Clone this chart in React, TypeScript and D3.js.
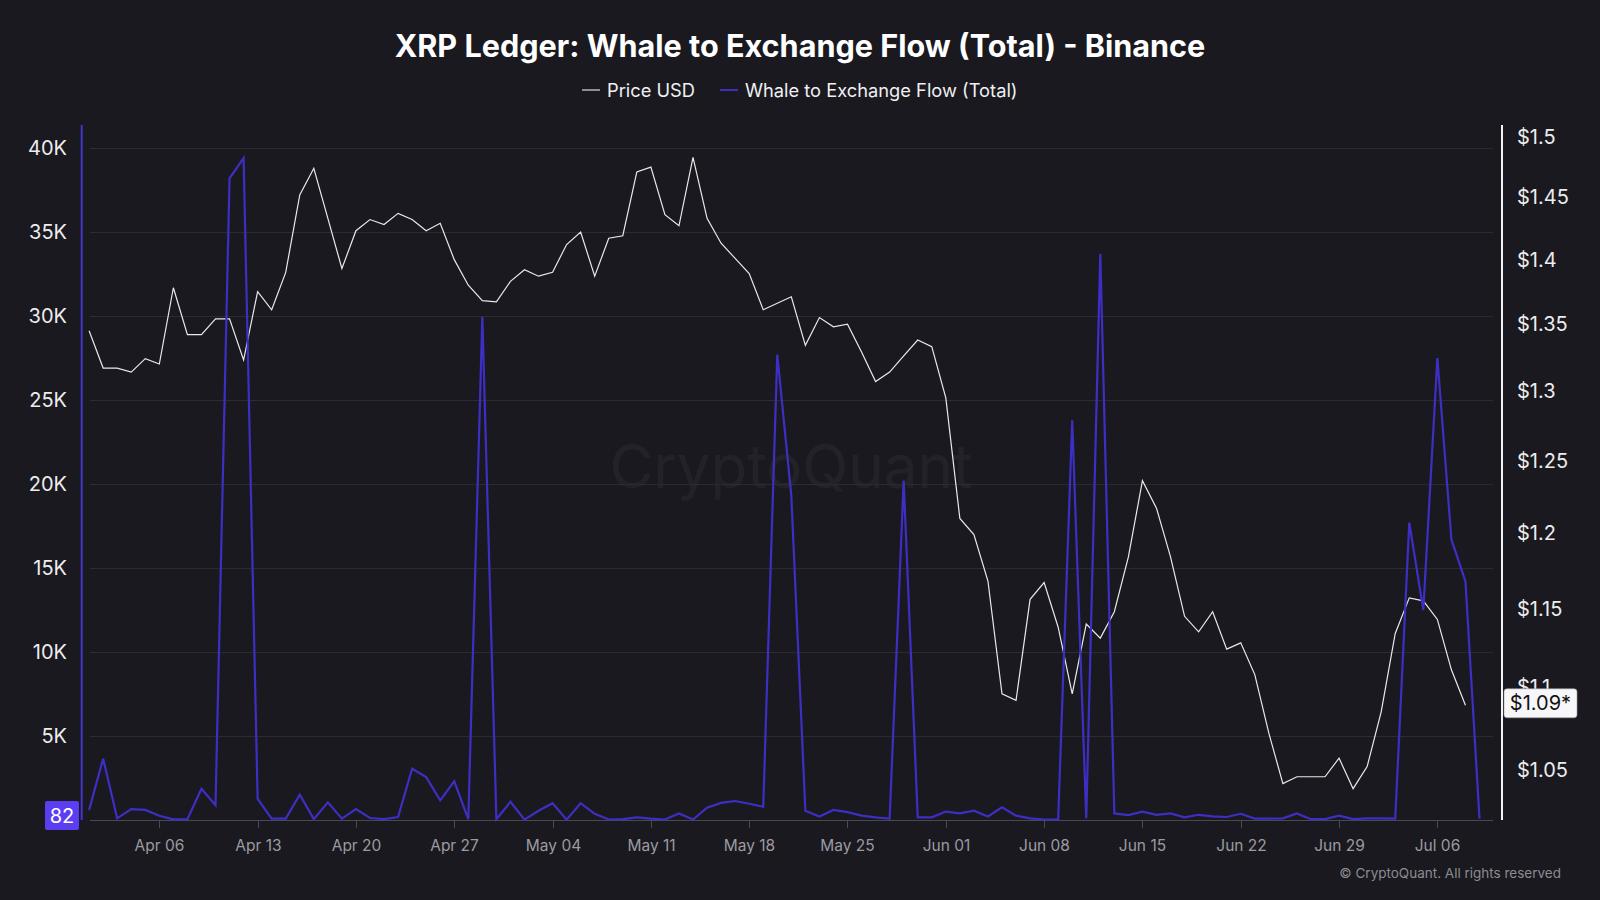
import React, { useEffect, useRef } from 'react'
import * as d3 from 'd3'

// daily points starting Apr 01
const startDate = Date.UTC(2025, 3, 1)

const priceUsd = [
  1.345, 1.317, 1.317, 1.314, 1.324, 1.32, 1.378, 1.342, 1.342, 1.354,
  1.354, 1.323, 1.375, 1.361, 1.39, 1.452, 1.474, 1.433, 1.393, 1.423,
  1.432, 1.428, 1.437, 1.432, 1.423, 1.429, 1.4, 1.38, 1.368, 1.367,
  1.383, 1.392, 1.387, 1.39, 1.412, 1.422, 1.387, 1.417, 1.419, 1.471,
  1.475, 1.436, 1.427, 1.483, 1.433, 1.413, 1.401, 1.389, 1.361, 1.366,
  1.371, 1.334, 1.355, 1.348, 1.35, 1.329, 1.307, 1.314, 1.326, 1.338,
  1.333, 1.295, 1.21, 1.199, 1.168, 1.096, 1.092, 1.156, 1.167, 1.138,
  1.096, 1.14, 1.131, 1.148, 1.184, 1.236, 1.217, 1.184, 1.145, 1.135,
  1.148, 1.124, 1.128, 1.108, 1.072, 1.042, 1.046, 1.046, 1.046, 1.057,
  1.039, 1.052, 1.085, 1.134, 1.157, 1.155, 1.143, 1.111, 1.089,
]

const whaleFlow = [
  600, 3650, 100, 650, 600, 250, 40, 50, 1860, 880,
  38200, 39400, 1250, 80, 80, 1500, 50, 1050, 80, 650,
  120, 50, 180, 3050, 2550, 1170, 2300, 50, 29950, 50,
  1080, 20, 550, 1000, 20, 1000, 370, 30, 50, 160,
  80, 30, 390, 30, 730, 1020, 1130, 970, 790, 27700,
  19300, 550, 210, 600, 470, 260, 160, 80, 20200, 160,
  160, 500, 390, 550, 210, 760, 260, 100, 30, 30,
  23800, 100, 33700, 390, 290, 500, 310, 390, 160, 310,
  220, 180, 370, 80, 80, 100, 390, 50, 50, 260,
  50, 100, 100, 80, 17700, 12500, 27500, 16700, 14200, 82,
]

const flowTicks = [5000, 10000, 15000, 20000, 25000, 30000, 35000, 40000]
const priceTicks = [1.05, 1.1, 1.15, 1.2, 1.25, 1.3, 1.35, 1.4, 1.45, 1.5]
const dateTicks = [
  '2025-04-06', '2025-04-13', '2025-04-20', '2025-04-27', '2025-05-04',
  '2025-05-11', '2025-05-18', '2025-05-25', '2025-06-01', '2025-06-08',
  '2025-06-15', '2025-06-22', '2025-06-29', '2025-07-06',
]

const FONT = 'Inter, "Noto Sans", sans-serif'
const BG = '#1a191f'
const PURPLE = '#3d2fc4'

const App: React.FC = () => {
  const svgRef = useRef<SVGSVGElement | null>(null)

  useEffect(() => {
    if (!svgRef.current) return
    const svg = d3.select(svgRef.current)
    svg.selectAll('*').remove()

    const width = 1600
    const height = 900
    const plot = { left: 90, right: 1493, top: 125, bottom: 820 }
    const day = 86400000

    svg.append('rect').attr('width', width).attr('height', height).attr('fill', BG)

    const x = d3
      .scaleUtc()
      .domain([new Date(startDate), new Date(startDate + 99 * day)])
      .range([89.1, 1479.5])
    const yFlow = d3.scaleLinear().domain([0, 41370]).range([plot.bottom, plot.top])
    const yPrice = d3
      .scaleLog()
      .domain([1.0208, 1.5104])
      .range([plot.bottom, plot.top])

    // title + legend
    svg
      .append('text')
      .attr('x', 800)
      .attr('y', 57)
      .attr('text-anchor', 'middle')
      .attr('font-family', FONT)
      .attr('font-size', 30.6)
      .attr('font-weight', 700)
      .attr('fill', '#ffffff')
      .text('XRP Ledger: Whale to Exchange Flow (Total) - Binance')

    const legend = [
      { label: 'Price USD', color: '#8d8d93', x: 582 },
      { label: 'Whale to Exchange Flow (Total)', color: PURPLE, x: 720 },
    ]
    legend.forEach((l) => {
      svg
        .append('line')
        .attr('x1', l.x)
        .attr('x2', l.x + 18)
        .attr('y1', 90)
        .attr('y2', 90)
        .attr('stroke', l.color)
        .attr('stroke-width', 2)
      svg
        .append('text')
        .attr('x', l.x + 25)
        .attr('y', 96.5)
        .attr('font-family', FONT)
        .attr('font-size', 18.3)
        .attr('fill', '#f0f0f2')
        .text(l.label)
    })

    // watermark
    svg
      .append('text')
      .attr('x', 791)
      .attr('y', 488)
      .attr('text-anchor', 'middle')
      .attr('font-family', FONT)
      .attr('font-size', 60)
      .attr('fill', '#ffffff')
      .attr('opacity', 0.04)
      .text('CryptoQuant')

    // grid
    svg
      .append('g')
      .selectAll('line')
      .data(flowTicks)
      .enter()
      .append('line')
      .attr('x1', plot.left)
      .attr('x2', plot.right)
      .attr('y1', (d) => Math.round(yFlow(d)) + 0.5)
      .attr('y2', (d) => Math.round(yFlow(d)) + 0.5)
      .attr('stroke', '#2c2b32')

    // bottom axis
    svg
      .append('line')
      .attr('x1', plot.left)
      .attr('x2', plot.right)
      .attr('y1', plot.bottom + 0.5)
      .attr('y2', plot.bottom + 0.5)
      .attr('stroke', '#4a4952')
    const xg = svg.append('g')
    dateTicks.forEach((t) => {
      const d = new Date(t + 'T00:00:00Z')
      const px = Math.round(x(d)) + 0.5
      xg.append('line')
        .attr('x1', px)
        .attr('x2', px)
        .attr('y1', plot.bottom)
        .attr('y2', plot.bottom + 8)
        .attr('stroke', '#4a4952')
      xg.append('text')
        .attr('x', px)
        .attr('y', 851)
        .attr('text-anchor', 'middle')
        .attr('font-family', FONT)
        .attr('font-size', 15.5)
        .attr('fill', '#9c9ba2')
        .text(d3.utcFormat('%b %d')(d))
    })

    // left axis
    svg
      .append('line')
      .attr('x1', 81.7)
      .attr('x2', 81.7)
      .attr('y1', plot.top)
      .attr('y2', plot.bottom)
      .attr('stroke', '#4334cc')
      .attr('stroke-width', 2)
    svg
      .append('g')
      .selectAll('text')
      .data(flowTicks)
      .enter()
      .append('text')
      .attr('x', 67)
      .attr('y', (d) => yFlow(d) + 7)
      .attr('text-anchor', 'end')
      .attr('font-family', FONT)
      .attr('font-size', 20)
      .attr('fill', '#ececee')
      .text((d) => `${d / 1000}K`)

    // right axis
    svg
      .append('line')
      .attr('x1', 1502)
      .attr('x2', 1502)
      .attr('y1', plot.top)
      .attr('y2', plot.bottom)
      .attr('stroke', '#f4f4f6')
      .attr('stroke-width', 2)
    svg
      .append('g')
      .selectAll('text')
      .data(priceTicks)
      .enter()
      .append('text')
      .attr('x', 1517)
      .attr('y', (d) => yPrice(d) + 7)
      .attr('font-family', FONT)
      .attr('font-size', 20)
      .attr('fill', '#ececee')
      .text((d) => `$${d}`)

    // series
    const priceLine = d3
      .line<number>()
      .x((_, i) => x(new Date(startDate + i * day)))
      .y((d) => yPrice(d))
    const flowLine = d3
      .line<number>()
      .x((_, i) => x(new Date(startDate + i * day)))
      .y((d) => yFlow(d))

    svg
      .append('path')
      .datum(priceUsd)
      .attr('d', priceLine)
      .attr('fill', 'none')
      .attr('stroke', '#e9e9ec')
      .attr('stroke-width', 1.2)

    svg
      .append('path')
      .datum(whaleFlow)
      .attr('d', flowLine)
      .attr('fill', 'none')
      .attr('stroke', PURPLE)
      .attr('stroke-width', 2.2)

    // last value badges
    const lastFlow = whaleFlow[whaleFlow.length - 1]
    const fy = Math.min(yFlow(lastFlow), 815.5)
    svg
      .append('rect')
      .attr('x', 45)
      .attr('y', fy - 14.5)
      .attr('width', 34)
      .attr('height', 29)
      .attr('rx', 2)
      .attr('fill', '#5b3ef2')
    svg
      .append('text')
      .attr('x', 62)
      .attr('y', fy + 7)
      .attr('text-anchor', 'middle')
      .attr('font-family', FONT)
      .attr('font-size', 20)
      .attr('fill', '#ffffff')
      .text(String(lastFlow))

    const lastPrice = priceUsd[priceUsd.length - 1]
    const py = yPrice(lastPrice) - 2
    svg
      .append('rect')
      .attr('x', 1504)
      .attr('y', py - 14.5)
      .attr('width', 73)
      .attr('height', 29)
      .attr('rx', 3)
      .attr('fill', '#f7f7fa')
      .attr('stroke', '#9a9aa0')
      .attr('stroke-width', 0.6)
    svg
      .append('text')
      .attr('x', 1540.5)
      .attr('y', py + 7)
      .attr('text-anchor', 'middle')
      .attr('font-family', FONT)
      .attr('font-size', 20)
      .attr('fill', '#111111')
      .text(`$${lastPrice.toFixed(2)}*`)

    svg
      .append('text')
      .attr('x', 1561)
      .attr('y', 878)
      .attr('text-anchor', 'end')
      .attr('font-family', FONT)
      .attr('font-size', 13.5)
      .attr('fill', '#8c8b92')
      .text('© CryptoQuant. All rights reserved')
  }, [])

  return (
    <svg
      ref={svgRef}
      width={1600}
      height={900}
      style={{ position: 'absolute', left: 0, top: 0, display: 'block' }}
    ></svg>
  )
}

export default App
